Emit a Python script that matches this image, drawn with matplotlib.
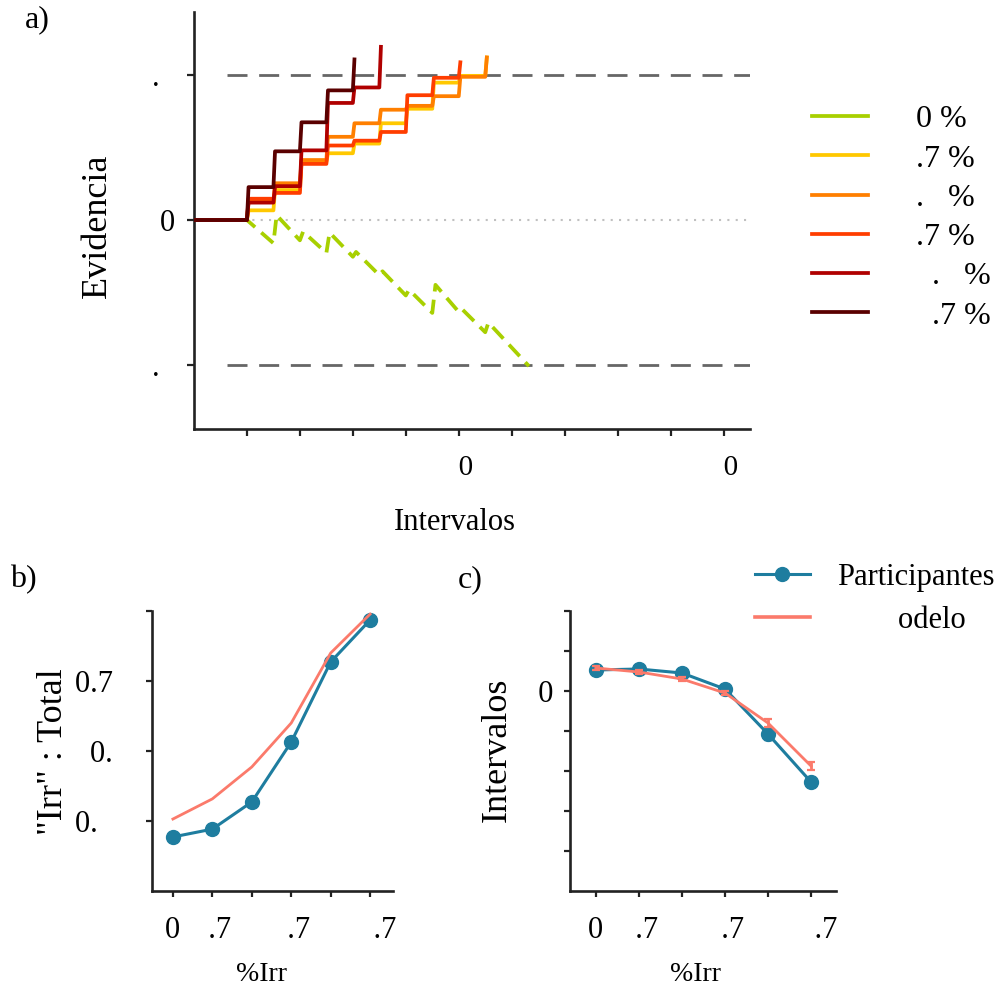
import matplotlib
matplotlib.use("Agg")
import matplotlib.pyplot as plt
from matplotlib.lines import Line2D

plt.rcParams['font.family'] = ['Liberation Serif', 'DejaVu Serif']

# the original font dropped most digits but kept their width; an en space stands in for them
B = "\u2002"

# ---- panel a: evidence traces ----
thr = 1.5
interval_ticks = list(range(2, 21, 2))
interval_ticklabels = ["", "", "", "", B + "0", "", "", "", "", B + "0"]
evid_ticks = [-thr, 0, thr]
evid_ticklabels = ["." + B, "0", "." + B]

first_step = 2
# evidence level held in each interval, starting at interval 2, plus the final value
yellow_lv = [0.10, 0.31, 0.60, 0.69, 0.79, 1.00, 1.15, 1.42, 1.49]
orange_lv = [0.19, 0.38, 0.62, 0.86, 1.00, 1.14, 1.18, 1.28, 1.48]
redor_lv = [0.22, 0.28, 0.58, 0.77, 0.82, 0.91, 1.29, 1.47]
darkred_lv = [0.18, 0.35, 0.72, 1.21, 1.37]
darkest_lv = [0.34, 0.71, 1.01, 1.34]
final_lv = [1.68, 1.68, 1.63, 1.79, 1.66]

# 0 % trace: value right after each jump and right before the next one
green_start = [0.00, 0.05, -0.12, -0.13, -0.33, -0.53, -0.72, -0.67, -0.92, -1.06]
green_end = [-0.24, -0.21, -0.34, -0.38, -0.57, -0.78, -0.96, -0.95, -1.16]
green_stop_x = 12.65
green_stop_y = -1.51

legend_a = [B + "0 %", B + ".7 %", B + "." + B + " %", B + ".7 %",
            B + B + "." + B + " %", B + B + ".7 %"]
colors_a = ["#a8d000", "#ffc800", "#ff7f00", "#ff3d00", "#b00000", "#5a0000"]

# ---- panels b and c ----
pct_pos = [0, 1, 2, 3, 4, 5]
pct_labels = ["0", B + ".7", "", B + ".7", "", B + B + ".7"]

ratio_part = [0.193, 0.221, 0.318, 0.532, 0.818, 0.968]
ratio_model = [0.257, 0.329, 0.443, 0.600, 0.850, 0.989]
ratio_ticks = [0.25, 0.5, 0.75, 1.0]
ratio_ticklabels = ["0." + B + B, "0." + B, "0.7" + B, B]

int_part = [11.05, 11.10, 10.90, 10.10, 7.85, 5.45]
int_part_err = [0.12, 0.12, 0.12, 0.15, 0.30, 0.20]
int_model = [11.15, 10.95, 10.60, 9.90, 8.40, 6.25]
int_model_err = [0.08, 0.08, 0.10, 0.12, 0.20, 0.22]
int_ticks = [2, 4, 6, 8, 10, 12, 14]
int_ticklabels = ["", "", "", "", B + "0", "", ""]

TEAL = "#1e7d9f"
SALMON = "#fb7a6b"
INK = "#222222"
TICK_FS = 22


def step_trace(levels, final, d=0.06):
    xs, ys = [0, first_step], [0, 0]
    for k, lv in enumerate(levels):
        x0 = first_step + k
        xs += [x0 + d, x0 + 1]
        ys += [lv, lv]
    xs.append(first_step + len(levels) + d)
    ys.append(final)
    return xs, ys


def zigzag_trace(starts, ends, stop_x, stop_y, d=0.12):
    xs, ys = [0, first_step], [0, 0]
    for k, s in enumerate(starts):
        x0 = first_step + k
        if k > 0:
            xs.append(x0 + d)
            ys.append(s)
        if k < len(ends):
            xs.append(x0 + 1)
            ys.append(ends[k])
    xs.append(stop_x)
    ys.append(stop_y)
    return xs, ys


def style(ax, lw=1.9):
    for s in ["top", "right"]:
        ax.spines[s].set_visible(False)
    for s in ["left", "bottom"]:
        ax.spines[s].set_linewidth(lw)
        ax.spines[s].set_color(INK)
    ax.tick_params(width=1.6, length=4, color=INK, labelsize=TICK_FS)


fig = plt.figure(figsize=(10.03, 9.96), dpi=100)

# ---------- a ----------
ax = fig.add_axes([194 / 1003, 1 - 429 / 996, 556 / 1003, 417 / 996])
style(ax)
ax.plot([0, 21], [0, 0], color="#c0c0c0", lw=1.5, linestyle=(0, (1, 3.0)), zorder=1)
for t in (thr, -thr):
    ax.plot([1.25, 21], [t, t], color="#666666", lw=2.0, linestyle=(0, (7.2, 4.2)), zorder=1)

gx, gy = zigzag_trace(green_start, green_end, green_stop_x, green_stop_y)
ax.plot(gx, gy, color=colors_a[0], lw=2.7, linestyle=(0, (4.2, 2.2)), label=legend_a[0], zorder=2)
all_lv = [yellow_lv, orange_lv, redor_lv, darkred_lv, darkest_lv]
for i, lv in enumerate(all_lv):
    xs, ys = step_trace(lv, final_lv[i])
    ax.plot(xs, ys, color=colors_a[i + 1], lw=2.7, label=legend_a[i + 1], zorder=3 + i)

ax.set_xlim(0, 21)
ax.set_ylim(-2.16, 2.15)
ax.set_xticks(interval_ticks)
ax.set_xticklabels(interval_ticklabels)
ax.set_yticks(evid_ticks)
ax.set_yticklabels(evid_ticklabels)
ax.tick_params(axis="both", length=5)
ax.tick_params(axis="x", pad=14, labelsize=21)
ax.tick_params(axis="y", pad=9, labelsize=TICK_FS)
ax.set_ylabel("Evidencia", fontsize=26)
ax.yaxis.set_label_coords(-0.144, 0.487)
ax.set_xlabel("Intervalos", fontsize=22)
ax.xaxis.set_label_coords(0.469, -0.19)

handles_a = [Line2D([], [], color=c, lw=2.7) for c in colors_a]
ax.legend(handles_a, legend_a, loc="upper left", bbox_to_anchor=(812 / 1003, 1 - 105 / 996),
          bbox_transform=fig.transFigure, frameon=False, fontsize=23,
          borderpad=0, borderaxespad=0, handlelength=1.75, handletextpad=1.0,
          labelspacing=0.31)

fig.text(25 / 1003, 1 - 20 / 996, "a)", fontsize=23, va="center", ha="left")

# ---------- b ----------
axb = fig.add_axes([152 / 1003, 1 - 891 / 996, 241 / 1003, 280 / 996])
style(axb)
axb.plot(pct_pos, ratio_part, color=TEAL, lw=2.2, marker="o", markersize=10, zorder=2)
axb.plot(pct_pos, ratio_model, color=SALMON, lw=2.0, zorder=3)
axb.set_xlim(-0.53, 5.58)
axb.set_ylim(0, 1.0)
axb.set_xticks(pct_pos)
axb.set_xticklabels(pct_labels)
axb.set_yticks(ratio_ticks)
axb.set_yticklabels(ratio_ticklabels)
axb.tick_params(axis="x", pad=14)
axb.tick_params(axis="y", pad=13)
axb.set_ylabel('"Irr" : Total', fontsize=26)
axb.yaxis.set_label_coords(-0.34, 0.496)
axb.set_xlabel("%Irr", fontsize=20)
axb.xaxis.set_label_coords(0.456, -0.255)
fig.text(10 / 1003, 1 - 580 / 996, "b)", fontsize=23, va="center", ha="left")

# ---------- c ----------
axc = fig.add_axes([570 / 1003, 1 - 891 / 996, 266 / 1003, 280 / 996])
style(axc)
axc.errorbar(pct_pos, int_part, yerr=int_part_err, color=TEAL, lw=2.2, marker="o",
             markersize=10, capsize=3, zorder=2)
axc.errorbar(pct_pos, int_model, yerr=int_model_err, color=SALMON, lw=2.0,
             capsize=3, capthick=1.6, zorder=3)
axc.set_xlim(-0.6, 5.58)
axc.set_ylim(0, 14)
axc.set_xticks(pct_pos)
axc.set_xticklabels(pct_labels)
axc.set_yticks(int_ticks)
axc.set_yticklabels(int_ticklabels)
axc.tick_params(axis="x", pad=14)
axc.tick_params(axis="y", pad=8)
axc.set_ylabel("Intervalos", fontsize=26)
axc.yaxis.set_label_coords(-0.21, 0.504)
axc.set_xlabel("%Irr", fontsize=20)
axc.xaxis.set_label_coords(0.47, -0.255)
handles_c = [Line2D([], [], color=TEAL, lw=2.2, marker="o", markersize=10),
             Line2D([], [], color=SALMON, lw=2.6)]
axc.legend(handles_c, ["Participantes", B * 4 + "odelo"], loc="upper left",
           bbox_to_anchor=(755 / 1003, 1 - 563 / 996),
           bbox_transform=fig.transFigure, frameon=False, fontsize=22,
           borderpad=0, borderaxespad=0, handlelength=1.8, handletextpad=0.9,
           labelspacing=0.45)
fig.text(458 / 1003, 1 - 580 / 996, "c)", fontsize=23, va="center", ha="left")

fig.savefig("out.png", dpi=100)
